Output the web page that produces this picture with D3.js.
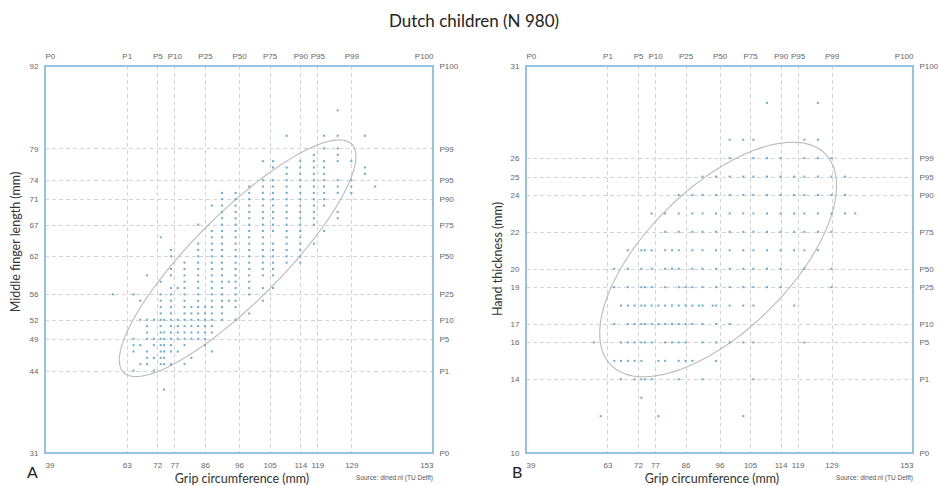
<!DOCTYPE html>
<html>
<head>
<meta charset="utf-8">
<script src="https://cdn.jsdelivr.net/npm/d3@7"></script>
<style>
  body { margin: 0; background: #fff; }
  svg { display: block; }
</style>
</head>
<body>
<div class="chart"></div>
<script>
// percentile names shown on the top and right axes
const percentiles = ['P0', 'P1', 'P5', 'P10', 'P25', 'P50', 'P75', 'P90', 'P95', 'P99', 'P100'];

// measurement values (mm) at those percentiles
const gripTicks = [39, 63, 72, 77, 86, 96, 105, 114, 119, 129, 153];
const fingerTicks = [31, 44, 49, 52, 56, 62, 67, 71, 74, 79, 92];
const thicknessTicks = [10, 14, 16, 17, 19, 20, 22, 24, 25, 26, 31];

// panel A: grip circumference columns and the finger lengths seen in each
const gripA = [59, 65, 67, 69, 71, 73, 74, 76, 78, 80, 82, 84, 86, 88, 91, 93, 95, 99, 103, 106, 110, 114, 118, 121, 125, 129, 133, 136];
const fingerA = [
  [56],
  [56, 49, 48, 47, 44],
  [55, 52, 48, 45],
  [59, 52, 51, 50, 49, 47, 46, 45],
  [52, 49, 48, 46, 44],
  [65, 58, 56, 55, 54, 53, 52, 51, 50, 49, 48, 47, 46, 45],
  [52, 50, 49, 48, 47, 46, 45, 41],
  [63, 62, 60, 59, 57, 56, 55, 54, 53, 52, 51, 50, 49, 48, 47, 45],
  [57, 52, 51, 50, 49, 47],
  [61, 60, 59, 58, 57, 56, 55, 54, 53, 52, 51, 50, 49, 48, 45],
  [54, 53, 52, 51, 50, 49, 46],
  [67, 64, 63, 62, 61, 60, 59, 58, 57, 56, 55, 54, 53, 52, 51, 50, 49],
  [54, 53, 52, 51, 50, 49, 48],
  [70, 66, 65, 64, 63, 62, 61, 60, 59, 58, 57, 56, 55, 54, 53, 52, 51, 50, 47],
  [72, 71, 70, 69, 68, 67, 66, 65, 64, 63, 62, 61, 60, 59, 58, 57, 56, 55, 54, 53, 52],
  [58, 55],
  [72, 71, 70, 69, 68, 67, 66, 65, 64, 63, 62, 61, 60, 59, 58, 57, 56, 55, 54, 52],
  [73, 72, 71, 70, 69, 68, 67, 66, 65, 64, 63, 62, 61, 60, 59, 58, 57, 56, 53],
  [77, 74, 73, 72, 71, 70, 69, 68, 67, 66, 65, 64, 63, 62, 61, 60, 59, 57, 55],
  [77, 76, 74, 73, 72, 71, 70, 69, 68, 67, 66, 64, 63, 62, 61, 60, 59, 57],
  [81, 76, 75, 74, 73, 72, 71, 70, 69, 68, 67, 66, 65, 64, 63, 62, 61],
  [77, 76, 75, 74, 73, 72, 71, 70, 69, 68, 67, 66, 65, 64, 63, 62, 61],
  [78, 77, 76, 75, 74, 73, 72, 71, 70, 69, 68, 67, 64],
  [81, 79, 77, 76, 75, 74, 73, 72, 71, 70, 66],
  [85, 81, 79, 78, 77, 74, 73, 72, 69, 68],
  [77, 74, 73, 72],
  [81, 76, 75],
  [73]
];

// panel B: hand thickness rows and the grip circumferences seen in each
const thicknessB = [29, 27, 26, 25, 24, 23, 22, 21, 20, 19, 18, 17, 16, 15, 14, 13, 12];
const gripB = [
  [110, 125],
  [99, 103, 106, 121, 125],
  [99, 106, 110, 114, 121, 125, 129],
  [91, 95, 99, 103, 106, 110, 114, 118, 121, 125, 129, 133],
  [84, 88, 91, 95, 99, 103, 106, 110, 114, 118, 121, 125, 129, 133],
  [76, 80, 84, 88, 91, 95, 99, 103, 106, 110, 114, 118, 121, 125, 129, 133, 136],
  [80, 84, 88, 91, 95, 99, 103, 106, 110, 114, 118, 121, 125, 129],
  [69, 73, 74, 76, 80, 82, 84, 88, 91, 95, 99, 103, 106, 110, 114, 118, 121, 125],
  [65, 69, 73, 76, 80, 82, 84, 88, 91, 95, 99, 103, 106, 110, 114, 121, 129],
  [65, 69, 73, 74, 76, 80, 84, 86, 88, 91, 95, 99, 103, 106, 110, 114, 129],
  [67, 69, 71, 73, 74, 76, 78, 80, 82, 84, 86, 88, 90, 91, 94, 95, 99, 103, 106, 118],
  [65, 69, 71, 73, 74, 76, 78, 80, 82, 84, 86, 88, 91, 95, 99],
  [59, 67, 69, 71, 73, 74, 76, 80, 82, 84, 86, 91, 95, 99, 103, 106, 121],
  [65, 67, 69, 71, 73, 78, 80, 84, 86, 88, 95],
  [67, 71, 73, 74, 76, 84, 91, 106],
  [73],
  [61, 78, 103]
];

// 95% ellipse: mean x, mean y, sd x, sd y, correlation
const ellipseA = [95.6, 61.7, 14.2, 7.62, 0.86];
const ellipseB = [95.6, 20.5, 14.25, 2.6, 0.63];

const pointsA = gripA.flatMap((g, i) => fingerA[i].map(f => ({ x: g, y: f })));
const pointsB = thicknessB.flatMap((t, i) => gripB[i].map(g => ({ x: g, y: t })));

const width = 938;
const height = 486;

const svg = d3.select('.chart')
  .append('svg')
  .attr('width', width)
  .attr('height', height);

svg.append('text')
  .attr('x', 474)
  .attr('y', 26.5)
  .attr('text-anchor', 'middle')
  .style('font-family', 'Lato, sans-serif')
  .style('font-size', '17px')
  .style('fill', '#222')
  .text('Dutch children (N 980)');

drawPanel({
  left: 45, right: 433, top: 66, bottom: 453,
  xTicks: gripTicks, yTicks: fingerTicks,
  points: pointsA, ellipse: ellipseA,
  xLabel: 'Grip circumference (mm)', xLabelX: 242,
  yLabel: 'Middle finger length (mm)', yLabelX: 20, yLabelY: 242,
  letter: 'A', letterX: 27
});

drawPanel({
  left: 526, right: 913, top: 66, bottom: 453,
  xTicks: gripTicks, yTicks: thicknessTicks,
  points: pointsB, ellipse: ellipseB,
  xLabel: 'Grip circumference (mm)', xLabelX: 712,
  yLabel: 'Hand thickness (mm)', yLabelX: 502, yLabelY: 259,
  letter: 'B', letterX: 512
});

function drawPanel(p) {

  const xScale = d3.scaleLinear()
    .domain(d3.extent(p.xTicks))
    .range([p.left, p.right]);

  const yScale = d3.scaleLinear()
    .domain(d3.extent(p.yTicks))
    .range([p.bottom, p.top]);

  const g = svg.append('g');

  // dashed grid at the inner percentiles
  g.selectAll('.v-grid')
    .data(p.xTicks.slice(1, -1))
    .enter()
    .append('line')
    .attr('x1', d => Math.round(xScale(d)) + 0.5)
    .attr('x2', d => Math.round(xScale(d)) + 0.5)
    .attr('y1', p.top)
    .attr('y2', p.bottom)
    .style('stroke', '#d4d4d4')
    .style('stroke-dasharray', '4,3');

  g.selectAll('.h-grid')
    .data(p.yTicks.slice(1, -1))
    .enter()
    .append('line')
    .attr('y1', d => Math.round(yScale(d)) + 0.5)
    .attr('y2', d => Math.round(yScale(d)) + 0.5)
    .attr('x1', p.left)
    .attr('x2', p.right)
    .style('stroke', '#d4d4d4')
    .style('stroke-dasharray', '4,3');

  // 95% ellipse
  const [mx, my, sx, sy, r] = p.ellipse;
  const k = Math.sqrt(-2 * Math.log(0.05));
  const ring = d3.range(0, 2 * Math.PI, Math.PI / 90).map(t => [
    xScale(mx + k * sx * Math.cos(t)),
    yScale(my + k * sy * (r * Math.cos(t) + Math.sqrt(1 - r * r) * Math.sin(t)))
  ]);

  g.append('path')
    .attr('d', d3.line().curve(d3.curveLinearClosed)(ring))
    .style('fill', 'none')
    .style('stroke', '#bababa')
    .style('stroke-width', 1.1);

  g.selectAll('.plot-point')
    .data(p.points)
    .enter()
    .append('rect')
    .classed('plot-point', true)
    .attr('x', d => xScale(d.x) - 1)
    .attr('y', d => yScale(d.y) - 1)
    .attr('width', 2)
    .attr('height', 2)
    .style('fill', '#6aaad3');

  g.append('rect')
    .attr('x', p.left)
    .attr('y', p.top)
    .attr('width', p.right - p.left)
    .attr('height', p.bottom - p.top)
    .style('fill', 'none')
    .style('stroke', '#95c3de')
    .style('stroke-width', 2);

  const last = p.xTicks.length - 1;
  const anchorX = (d, i) => i === 0 ? 'start' : (i === last ? 'end' : 'middle');

  const styleAxis = sel => {
    sel.select('.domain').remove();
    sel.selectAll('text')
      .style('font-family', '"Liberation Sans", Arial, sans-serif')
      .style('font-size', '8px')
      .style('fill', '#666');
  };

  g.append('g')
    .attr('transform', `translate(0, ${p.bottom})`)
    .call(d3.axisBottom(xScale).tickValues(p.xTicks).tickSize(0).tickPadding(9))
    .call(styleAxis)
    .selectAll('text')
    .attr('text-anchor', anchorX);

  g.append('g')
    .attr('transform', `translate(0, ${p.top})`)
    .call(d3.axisTop(xScale).tickValues(p.xTicks).tickSize(0).tickPadding(7)
      .tickFormat((d, i) => percentiles[i]))
    .call(styleAxis)
    .selectAll('text')
    .attr('text-anchor', anchorX);

  g.append('g')
    .attr('transform', `translate(${p.left}, 0)`)
    .call(d3.axisLeft(yScale).tickValues(p.yTicks).tickSize(0).tickPadding(6.5))
    .call(styleAxis);

  g.append('g')
    .attr('transform', `translate(${p.right}, 0)`)
    .call(d3.axisRight(yScale).tickValues(p.yTicks).tickSize(0).tickPadding(6.5)
      .tickFormat((d, i) => percentiles[i]))
    .call(styleAxis);

  g.append('text')
    .attr('x', p.xLabelX)
    .attr('y', 483)
    .attr('text-anchor', 'middle')
    .style('font-family', 'Lato, sans-serif')
    .style('font-size', '12.5px')
    .style('fill', '#333')
    .text(p.xLabel);

  g.append('text')
    .attr('transform', `translate(${p.yLabelX}, ${p.yLabelY}) rotate(-90)`)
    .attr('text-anchor', 'middle')
    .style('font-family', 'Lato, sans-serif')
    .style('font-size', '12.5px')
    .style('fill', '#333')
    .text(p.yLabel);

  g.append('text')
    .attr('x', p.letterX)
    .attr('y', 478)
    .style('font-family', 'Lato, sans-serif')
    .style('font-size', '16px')
    .style('fill', '#222')
    .text(p.letter);

  g.append('text')
    .attr('x', p.right)
    .attr('y', 479.5)
    .attr('text-anchor', 'end')
    .style('font-family', '"Liberation Sans", Arial, sans-serif')
    .style('font-size', '6.5px')
    .style('fill', '#555')
    .text('Source: dined.nl (TU Delft)');
}
</script>
</body>
</html>
